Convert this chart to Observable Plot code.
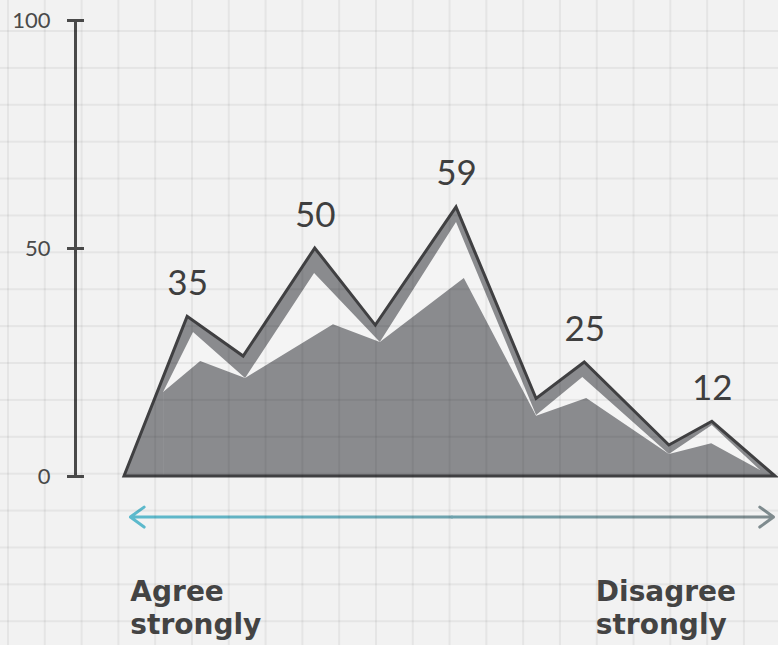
<!DOCTYPE html>
<html>
<head>
<meta charset="utf-8">
<script src="https://cdn.jsdelivr.net/npm/d3@7"></script>
<script src="https://cdn.jsdelivr.net/npm/@observablehq/plot@0.6"></script>
<style>
  html, body { margin: 0; padding: 0; }
  body { background: #f2f2f2; width: 778px; height: 645px; overflow: hidden; }
  #wrap { position: relative; width: 778px; height: 645px; }
  #grid {
    position: absolute; left: 0; top: 0; width: 778px; height: 645px; pointer-events: none;
    background-image:
      linear-gradient(to right, rgba(0,0,0,0.055) 2px, transparent 2px),
      linear-gradient(to bottom, rgba(0,0,0,0.055) 2px, transparent 2px);
    background-size: 36.8px 36.9px;
    background-position: 7px 30px;
  }
</style>
</head>
<body>
<div id="wrap"><div id="grid"></div></div>
<script>
// ---- data ----
const outerX      = [0, 9.7, 18.3, 29.3, 38.6, 51.0, 63.3, 70.7, 83.7, 90.3, 100];
const outerValues = [0, 35, 26.3, 50, 33.1, 59, 17, 25, 6.8, 12, 0];
const bandX       = [6.0, 10.6, 18.6, 29.2, 39.3, 51.0, 63.3, 70.4, 83.7, 90.3, 97.7];
const bandValues  = [18.4, 31.6, 21.5, 44.5, 29.4, 55.7, 13.4, 21.7, 4.8, 11.2, 1.3];
const innerX      = [6.0, 11.7, 18.6, 32.1, 39.3, 52.2, 63.3, 71.0, 83.7, 90.2, 97.7];
const innerValues = [18.4, 25.2, 21.5, 33.3, 29.4, 43.4, 13.2, 17.1, 4.8, 7.2, 1.3];
const peakIndex   = [1, 3, 5, 7, 9];
const yTicks      = [0, 50, 100];
const arrowSpan   = [0.9, 99.7];
const arrowLevel  = -8.9;
const endLabels   = ["Agree\nstrongly", "Disagree\nstrongly"];
const endLabelX   = [0.9, 72.4];
const endLabelLevel = -22.2;

// ---- tables ----
const outer = outerX.map((x, i) => ({x, y: outerValues[i]}));
const band  = bandX.map((x, i) => ({x, y: bandValues[i]}));
const inner = innerX.map((x, i) => ({x, y: innerValues[i]}));
const peaks = peakIndex.map(i => ({x: outerX[i], y: outerValues[i], label: String(outerValues[i])}));
const mid = (arrowSpan[0] + arrowSpan[1]) / 2;
const arrows = arrowSpan.map(e => ({x1: mid, x2: e, y1: arrowLevel, y2: arrowLevel}));
const ends = endLabels.map((t, i) => ({x: endLabelX[i], y: endLabelLevel, text: t}));

const GRAY = "#8a8b8e";
const DARK = "#404042";

const plot = Plot.plot({
  width: 778,
  height: 645,
  marginLeft: 124,
  marginRight: 3,
  marginTop: 20,
  marginBottom: 169,
  style: {background: "transparent", fontFamily: "Lato, 'Noto Sans', sans-serif", overflow: "visible"},
  x: {domain: [0, 100], axis: null},
  y: {domain: [0, 100], axis: null},
  marks: [
    Plot.areaY(outer, {x: "x", y: "y", fill: GRAY}),
    Plot.areaY(band, {x: "x", y: "y", fill: "#f4f4f4"}),
    Plot.areaY(inner, {x: "x", y: "y", fill: GRAY}),
    Plot.areaY(outer, {x: "x", y: "y", fill: "none", stroke: DARK, strokeWidth: 3, strokeLinejoin: "miter", strokeMiterlimit: 10}),
    Plot.ruleX([{x: 0, y1: yTicks[0], y2: yTicks[yTicks.length - 1]}], {x: "x", y1: "y1", y2: "y2", dx: -49, stroke: "#4a4a4a", strokeWidth: 3}),
    Plot.axisY(yTicks, {anchor: "left", dx: -40, tickSize: 17, tickPadding: 17, fontSize: 22, color: "#4a4a4a", strokeWidth: 3, tickFormat: d => String(d)}),
    Plot.text(peaks, {x: "x", y: "y", text: "label", dy: -22, lineAnchor: "bottom", fontSize: 35, fill: "#3f3f3f"}),
    Plot.arrow(arrows, {x1: "x1", x2: "x2", y1: "y1", y2: "y2", stroke: "url(#arrowGrad)", strokeWidth: 3, headLength: 8.5, headAngle: 72}),
    Plot.text(ends, {x: "x", y: "y", text: "text", textAnchor: "start", lineAnchor: "top", fontSize: 28, fontWeight: "bold", fontFamily: "'DejaVu Sans', sans-serif", lineHeight: 1.18, fill: "#444444"})
  ]
});

// gradient for the arrow (pixel positions taken from the x scale)
const xs = plot.scale("x");
const ns = "http://www.w3.org/2000/svg";
const defs = document.createElementNS(ns, "defs");
const grad = document.createElementNS(ns, "linearGradient");
grad.setAttribute("id", "arrowGrad");
grad.setAttribute("gradientUnits", "userSpaceOnUse");
grad.setAttribute("x1", xs.apply(arrowSpan[0]));
grad.setAttribute("x2", xs.apply(arrowSpan[1]));
grad.setAttribute("y1", 0);
grad.setAttribute("y2", 0);
[["0%", "#5cbacd"], ["100%", "#808b8e"]].forEach(([o, c]) => {
  const s = document.createElementNS(ns, "stop");
  s.setAttribute("offset", o);
  s.setAttribute("stop-color", c);
  grad.appendChild(s);
});
defs.appendChild(grad);
plot.insertBefore(defs, plot.firstChild);

const wrap = document.getElementById("wrap");
wrap.insertBefore(plot, document.getElementById("grid"));
</script>
</body>
</html>
